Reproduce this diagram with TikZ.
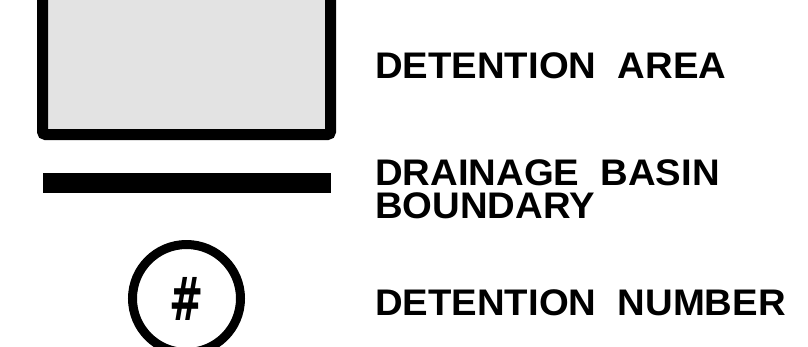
\documentclass[tikz,border=0pt]{standalone}
\usepackage{fontspec}
\setmainfont{Liberation Sans}[FakeStretch=1.035]
\newfontfamily\hashfont{DejaVu Sans}
\usetikzlibrary{
  positioning
}

\begin{document}
\begin{tikzpicture}[
    x=1pt, y=-1pt,
    every node/.style={font=\bfseries\fontsize{37}{33}\selectfont},
    areabox/.style={
        rectangle,
        rounded corners=3pt,
        draw=black,
        line width=11pt,
        fill=black!11,
        minimum width=288pt,
        minimum height=164.5pt
    },
    boundarybar/.style={
        rectangle,
        fill=black,
        inner sep=0pt,
        minimum width=288pt,
        minimum height=20pt
    },
    numbercircle/.style={
        circle,
        draw=black,
        line width=9pt,
        inner sep=0pt,
        minimum size=108pt,
        font=\hashfont\bfseries\fontsize{60}{60}\selectfont
    },
    legendtext/.style={
        anchor=base west,
        align=left,
        inner sep=0pt
    }
]

\useasboundingbox (0,0) rectangle (808,346);
\clip (0,0) rectangle (808,346);

% Symbols
\node[numbercircle] (number) at (186.5,298.5) {\scalebox{0.68}[1]{\#}};
\node[areabox] (area) at (186.5,52.25) {};
\node[boundarybar] (boundary) at (187,183) {};

% Labels
\node[legendtext] (arealabel) at (375,78) {DETENTION\ \ AREA};
\node[legendtext] (boundarylabel) at (375,218) {DRAINAGE\ \ BASIN\\BOUNDARY};
\node[legendtext] (numberlabel) at (375,315) {DETENTION\ \ NUMBER};

\end{tikzpicture}
\end{document}
